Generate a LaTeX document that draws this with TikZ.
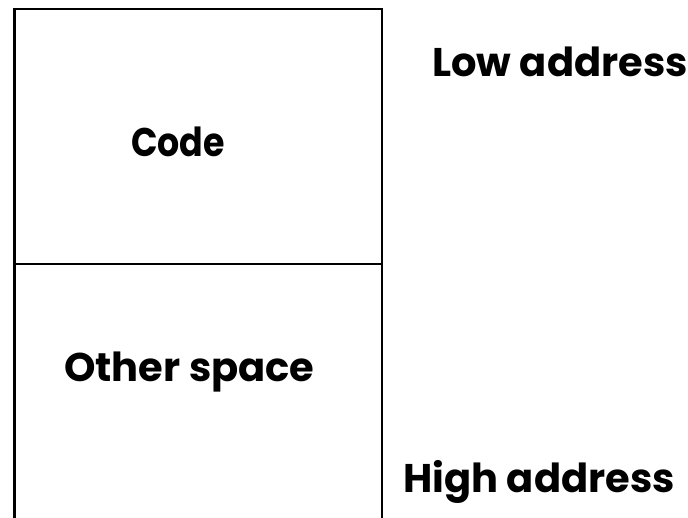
\documentclass[tikz,border=0pt]{standalone}
\usepackage{fontspec}
\setmainfont{Poppins}
\begin{document}
\begin{tikzpicture}[x=1pt,y=1pt,
  lbl/.style={font=\bfseries\fontsize{40}{46}\selectfont, inner sep=0pt, anchor=base west},
  wall/.style={line width=2.4pt, line join=miter}]
\useasboundingbox (0,0) rectangle (688,518);
\coordinate (bl) at (14.5,0);
\coordinate (tl) at (14.5,509);
\coordinate (tr) at (382,509);
\coordinate (br) at (382,0);
\coordinate (ml) at (14.5,254);
\coordinate (mr) at (382,254);
\draw[wall] (bl) -- (tl) -- (tr) -- (br);
\draw[wall] (ml) -- (mr);
\node[lbl] (code) at (131,361) {\scalebox{0.87}[1]{Code}};
\node[lbl] (other) at (64,136) {Other space};
\node[lbl] (low) at (432,441) {Low address};
\node[lbl] (high) at (403,25) {High address};
\end{tikzpicture}
\end{document}
